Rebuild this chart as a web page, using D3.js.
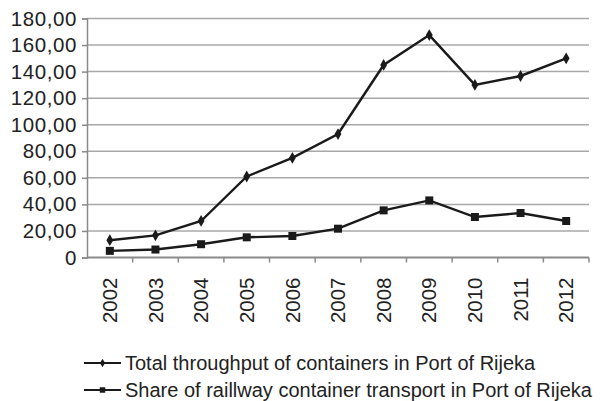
<!DOCTYPE html>
<html>
<head>
<meta charset="utf-8">
<script src="https://cdn.jsdelivr.net/npm/d3@7"></script>
<style>
  body { margin: 0; background: #fff; }
  svg { display: block; }
  .tickText { font-family: "Liberation Sans", Arial, sans-serif; font-size: 20.5px; fill: #222; }
  .yText { letter-spacing: 0.6px; }
  .legendText { font-family: "Liberation Sans", Arial, sans-serif; font-size: 20px; fill: #222; }
</style>
</head>
<body>
<svg id="chart" width="600" height="401"></svg>
<script>
const years = ['2002', '2003', '2004', '2005', '2006', '2007', '2008', '2009', '2010', '2011', '2012'];
const totalThroughput = [13, 16.7, 27.5, 61, 75, 93, 145, 167.5, 130, 136.7, 150];
const railwayShare = [5, 6, 10, 15.2, 16.2, 21.7, 35.5, 43, 30.5, 33.5, 27.5];
const yTicks = [0, 20, 40, 60, 80, 100, 120, 140, 160, 180];
const seriesNames = [
  'Total throughput of containers in Port of Rijeka',
  'Share of raillway container transport in Port of Rijeka'
];

const plotLeft = 87;
const plotRight = 589;
const plotTop = 18.5;
const plotBottom = 257.5;

const svg = d3.select('#chart');

const xscale = d3.scaleBand()
  .domain(years)
  .range([plotLeft, plotRight]);

const yscale = d3.scaleLinear()
  .domain([0, 180])
  .range([plotBottom, plotTop]);

const fmt = (v) => v === 0 ? '0' : d3.format('.2f')(v).replace('.', ',');

// gridlines
svg.append('g')
  .selectAll('line')
  .data(yTicks.filter((t) => t > 0))
  .enter()
  .append('line')
  .attr('x1', plotLeft)
  .attr('x2', plotRight)
  .attr('y1', (d) => yscale(d))
  .attr('y2', (d) => yscale(d))
  .attr('stroke', '#a8a8a8')
  .attr('stroke-width', 1.5);

// left axis
const leftAxis = d3.axisLeft(yscale)
  .tickValues(yTicks)
  .tickFormat(fmt)
  .tickSize(5)
  .tickPadding(5);

const gy = svg.append('g')
  .attr('transform', `translate(${plotLeft}, 0)`)
  .call(leftAxis);
gy.select('.domain').attr('stroke', '#8a8a8a').attr('stroke-width', 1.5);
gy.selectAll('.tick line').attr('stroke', '#8a8a8a').attr('stroke-width', 1.5);
gy.selectAll('.tick text').attr('class', 'tickText yText').attr('fill', null);

// bottom axis, ticks at band edges
const gx = svg.append('g')
  .attr('transform', `translate(0, ${plotBottom})`);
gx.append('line')
  .attr('x1', plotLeft).attr('x2', plotRight)
  .attr('stroke', '#8a8a8a').attr('stroke-width', 2);
gx.selectAll('.edge')
  .data(years)
  .enter()
  .append('line')
  .attr('class', 'edge')
  .attr('x1', (d) => xscale(d) + xscale.bandwidth())
  .attr('x2', (d) => xscale(d) + xscale.bandwidth())
  .attr('y1', 0).attr('y2', 5)
  .attr('stroke', '#8a8a8a').attr('stroke-width', 1.5);
gx.selectAll('.yearLabel')
  .data(years)
  .enter()
  .append('text')
  .attr('class', 'tickText')
  .attr('text-anchor', 'end')
  .attr('dy', '0.35em')
  .attr('transform', (d) => `translate(${xscale(d) + xscale.bandwidth() / 2}, 20) rotate(-90)`)
  .text((d) => d);

const cx = (d, i) => xscale(years[i]) + xscale.bandwidth() / 2;
const line = d3.line()
  .x(cx)
  .y((d) => yscale(d));

const diamond = d3.symbol().type(d3.symbolDiamond);
const square = d3.symbol().type(d3.symbolSquare);

// total throughput
svg.append('path')
  .datum(totalThroughput)
  .attr('d', line)
  .attr('fill', 'none')
  .attr('stroke', '#1a1a1a')
  .attr('stroke-width', 2.4);
svg.append('g')
  .selectAll('path')
  .data(totalThroughput)
  .enter()
  .append('path')
  .attr('d', diamond.size(40))
  .attr('transform', (d, i) => `translate(${cx(d, i)}, ${yscale(d)})`)
  .attr('fill', '#1a1a1a');

// railway share
svg.append('path')
  .datum(railwayShare)
  .attr('d', line)
  .attr('fill', 'none')
  .attr('stroke', '#1a1a1a')
  .attr('stroke-width', 2.4);
svg.append('g')
  .selectAll('path')
  .data(railwayShare)
  .enter()
  .append('path')
  .attr('d', square.size(64))
  .attr('transform', (d, i) => `translate(${cx(d, i)}, ${yscale(d)})`)
  .attr('fill', '#1a1a1a');

// legend
const legend = svg.append('g');
const legendRows = legend.selectAll('g')
  .data(seriesNames)
  .enter()
  .append('g')
  .attr('transform', (d, i) => `translate(84, ${363 + i * 27})`);
legendRows.append('line')
  .attr('x1', 0).attr('x2', 37)
  .attr('stroke', '#1a1a1a').attr('stroke-width', 2.2);
legendRows.append('path')
  .attr('d', (d, i) => i === 0 ? diamond.size(22)() : square.size(30)())
  .attr('transform', 'translate(18.5, 0)')
  .attr('fill', '#1a1a1a');
legendRows.append('text')
  .attr('class', 'legendText')
  .attr('x', 41)
  .attr('dy', '0.35em')
  .text((d) => d);
</script>
</body>
</html>
